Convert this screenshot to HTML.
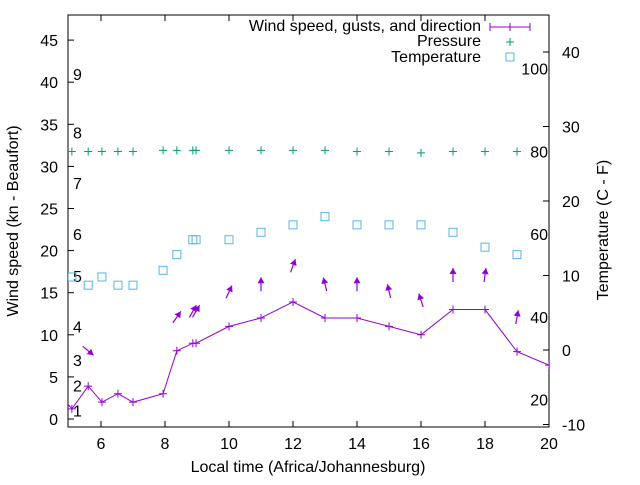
<!DOCTYPE html>
<html><head><meta charset="utf-8"><style>
body{margin:0;background:#fff}
svg{font-family:"Liberation Sans",sans-serif;font-size:16px}
</style></head><body>
<svg id="chart" width="640" height="480" xmlns="http://www.w3.org/2000/svg">
<rect width="640" height="480" fill="#fff"/>
<defs><clipPath id="clip"><rect x="68" y="15" width="481" height="412"/></clipPath></defs>
<g id="axes"></g>
<g id="marks" clip-path="url(#clip)"></g>
<g id="legend"></g>
</svg>
<script>
const windTimes=[4.85,5.09,5.6,6.03,6.53,7.0,7.94,8.37,8.87,8.97,10,11,12,13,14,15,16,17,18,19,20];
const windSpeed=[2.3,1.2,3.9,2.0,3.0,2.0,3.0,8.1,9,9,11,12,13.9,12,12,11,10,13,13,8,6.4];
const gustSpeed=[null,null,8.1,null,null,null,null,12.1,12.8,12.8,15.1,16,18.2,16,16,15.2,14.1,17.1,17.1,12.1,null];
const windDir=[null,null,310,null,null,null,null,215,210,210,205,180,200,166,180,167,162,180,188,190,null];
const tempTimes=[5.09,5.6,6.03,6.53,7.0,7.94,8.37,8.87,8.97,10,11,12,13,14,15,16,17,18,19];
const tempC=[9.8,8.7,9.8,8.7,8.7,10.7,12.8,14.8,14.8,14.8,15.8,16.8,17.9,16.8,16.8,16.8,15.8,13.8,12.8];
const presTimes=[5.09,5.6,6.03,6.53,7.0,7.94,8.37,8.87,8.97,10,11,12,13,14,15,16,17,18,19];
const presVal=[31.77,31.77,31.77,31.77,31.77,31.9,31.9,31.9,31.9,31.9,31.9,31.9,31.9,31.77,31.77,31.6,31.77,31.77,31.77];
const xTicks=[6,8,10,12,14,16,18,20];
const yTicks=[0,5,10,15,20,25,30,35,40,45];
const y2Ticks=[-10,0,10,20,30,40];
const fTicks=[20,40,60,80,100];
const beaufortKn=[1,4,7,11,17,22,28,34,41];
const beaufortLbl=["1","2","3","4","5","6","7","8","9"];

const L=68,R=549,T=15,B=427;
const X=t=>69+(t-5)*32;
const Y=v=>419-v*8.42;
const Y2=c=>350-c*7.45;
const NS="http://www.w3.org/2000/svg";
function mk(tag,attrs,parent,text){const e=document.createElementNS(NS,tag);for(const k in attrs)e.setAttribute(k,attrs[k]);if(text!==undefined)e.textContent=text;parent.appendChild(e);return e;}
const ax=document.getElementById('axes'),mg=document.getElementById('marks'),lg=document.getElementById('legend');
const PUR="#9400d3",GRN="#009e73",BLU="#56b4e9";

let e=mk('rect',{x:L,y:T,width:R-L,height:B-T,fill:"none",stroke:"#000","stroke-width":1},ax);

xTicks.forEach(t=>{const x=X(t);
 mk('line',{x1:x,y1:B,x2:x,y2:B-6,stroke:"#000"},ax);mk('line',{x1:x,y1:T,x2:x,y2:T+6,stroke:"#000"},ax);
 const tx=mk('text',{x:x,y:B+22,"text-anchor":"middle"},ax,String(t));
 });
yTicks.forEach(v=>{const y=Y(v);
 mk('line',{x1:L,y1:y,x2:L+6,y2:y,stroke:"#000"},ax);
 const tx=mk('text',{x:L-10,y:y+6,"text-anchor":"end"},ax,String(v));
 });
y2Ticks.forEach(c=>{const y=Y2(c);
 mk('line',{x1:R,y1:y,x2:R-6,y2:y,stroke:"#000"},ax);
 const tx=mk('text',{x:R+13,y:y+6,"text-anchor":"start"},ax,String(c));
 });
fTicks.forEach(f=>{const y=Y2((f-32)/1.8);
 const tx=mk('text',{x:R-1,y:y+6,"text-anchor":"end"},ax,String(f));
 });
beaufortKn.forEach((k,i)=>{
 const tx=mk('text',{x:73,y:Y(k)+6},ax,beaufortLbl[i]);
 });
let t1=mk('text',{x:308,y:472,"text-anchor":"middle"},ax,"Local time (Africa/Johannesburg)");

let t2=mk('text',{x:18,y:221,"text-anchor":"middle",transform:"rotate(-90 18 221)"},ax,"Wind speed (kn - Beaufort)");

let t3=mk('text',{x:608,y:230,"text-anchor":"middle",transform:"rotate(-90 608 230)"},ax,"Temperature (C - F)");


function plus(g,x,y,c,s){mk('path',{d:`M${x-s},${y}H${x+s}M${x},${y-s}V${y+s}`,stroke:c,"stroke-width":1,fill:"none"},g);}
let pl=mk('polyline',{points:windTimes.map((t,i)=>X(t)+","+Y(windSpeed[i])).join(" "),fill:"none",stroke:PUR,"stroke-width":1},mg);

windTimes.forEach((t,i)=>plus(mg,X(t),Y(windSpeed[i]),PUR,4));
windTimes.forEach((t,i)=>{if(gustSpeed[i]==null)return;
 const cx=X(t),cy=Y(gustSpeed[i]);const b=(windDir[i]+180)*Math.PI/180;
 const dx=Math.sin(b),dy=-Math.cos(b),h=7;
 const hx=cx+dx*h,hy=cy+dy*h,tx=cx-dx*h,ty=cy-dy*h;
 const px=-dy,py=dx;
 const g=mk('g',{},mg);
 mk('line',{x1:tx,y1:ty,x2:hx,y2:hy,stroke:PUR,"stroke-width":1.2},g);
 const bx=hx-dx*6,by=hy-dy*6;
 mk('polygon',{points:`${hx},${hy} ${bx+px*3.5},${by+py*3.5} ${bx-px*3.5},${by-py*3.5}`,fill:PUR},g);});
presTimes.forEach((t,i)=>{const g=mk('g',{},mg);plus(g,X(t),Y(presVal[i]),GRN,4);});
tempTimes.forEach((t,i)=>{const r=mk('rect',{x:X(t)-4,y:Y2(tempC[i])-4,width:8,height:8,fill:"none",stroke:BLU,"stroke-width":1},mg);
 });
[["Wind speed, gusts, and direction",31],["Pressure",46],["Temperature",62]].forEach(a=>{
 const tx=mk('text',{x:481,y:a[1],"text-anchor":"end"},lg,a[0]);});
mk('path',{d:"M490,27H530M490,23V31M530,23V31",stroke:PUR,fill:"none"},lg);plus(lg,510,27,PUR,4);
plus(lg,510,42,GRN,4);
mk('rect',{x:506,y:53,width:8,height:8,fill:"none",stroke:BLU},lg);
</script>
</body></html>
